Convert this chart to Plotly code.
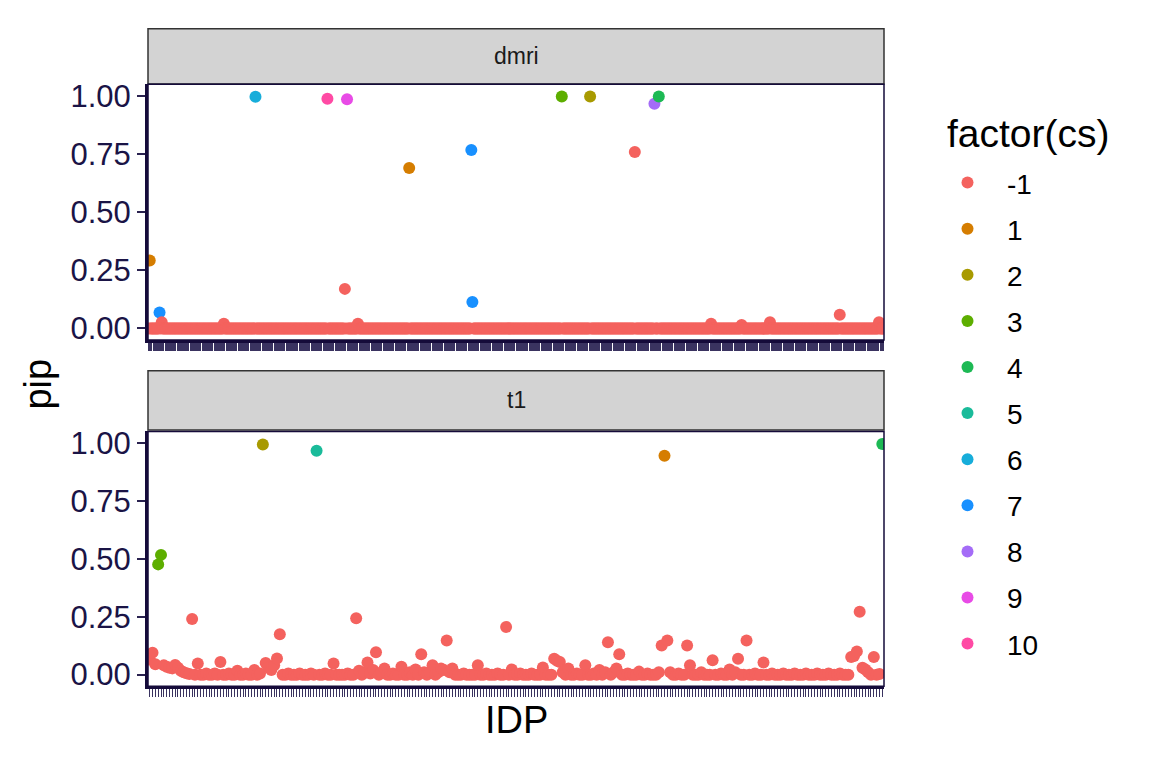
import plotly.graph_objects as go

# ******************************************************************************************* DATA

cs_levels = [-1, 1, 2, 3, 4, 5, 6, 7, 8, 9, 10]
cs_colors = ["#F4625E", "#D57D00", "#A89A00", "#5DAE00", "#1DB954", "#1ABB9A",
             "#17ADDA", "#1890FF", "#A46CF7", "#E84BE6", "#FF4AA4"]

# dmri: 675 IDPs, every IDP not listed below sits at pip 0 (cs -1)
dmri_n = 675
dmri_idx = [1, 10, 12, 69, 98, 164, 180, 182, 192, 239, 296, 297, 379, 405, 446, 464, 468, 516, 544, 570, 634, 670]
dmri_pip = [0.292, 0.068, 0.027, 0.02, 0.996, 0.987, 0.17, 0.985, 0.02, 0.69, 0.767, 0.114, 0.997, 0.997,
            0.758, 0.966, 0.997, 0.02, 0.015, 0.027, 0.059, 0.027]
dmri_cs = [1, 7, -1, -1, 6, 10, -1, 9, -1, 1, 7, 7, 3, 2, -1, 8, 4, -1, -1, -1, -1, -1]

# t1: 260 IDPs
t1_pip = [
    0.065, 0.095, 0.045, 0.476, 0.517, 0.04, 0.034, 0.03, 0.027, 0.042, 0.03, 0.017, 0.01, 0.006, 0.003, 0.24, 0.0, 0.048, 0.0, 0.0,
    0.005, 0.0, 0.0, 0.005, 0.0, 0.055, 0.0, 0.0, 0.005, 0.0, 0.0, 0.017, 0.0, 0.0, 0.005, 0.0, 0.0, 0.02, 0.0, 0.005,
    0.994, 0.05, 0.03, 0.02, 0.04, 0.07, 0.174, 0.0, 0.0, 0.005, 0.0, 0.0, 0.0, 0.005, 0.0, 0.0, 0.0, 0.005, 0.0, 0.967,
    0.0, 0.0, 0.005, 0.0, 0.0, 0.048, 0.0, 0.0, 0.0, 0.0, 0.005, 0.0, 0.0, 0.243, 0.017, 0.0, 0.008, 0.052, 0.005, 0.02,
    0.097, 0.0, 0.01, 0.027, 0.0, 0.0, 0.005, 0.0, 0.0, 0.034, 0.0, 0.0, 0.01, 0.0, 0.022, 0.0, 0.088, 0.01, 0.0, 0.01,
    0.041, 0.0, 0.01, 0.027, 0.02, 0.147, 0.01, 0.027, 0.0, 0.0, 0.0, 0.005, 0.0, 0.0, 0.0, 0.0, 0.041, 0.0, 0.0, 0.005,
    0.0, 0.0, 0.0, 0.005, 0.0, 0.0, 0.206, 0.0, 0.022, 0.0, 0.0, 0.005, 0.0, 0.0, 0.0, 0.005, 0.0, 0.0, 0.0, 0.031,
    0.0, 0.0, 0.0, 0.069, 0.06, 0.055, 0.01, 0.0, 0.027, 0.0, 0.0, 0.005, 0.0, 0.0, 0.041, 0.0, 0.0, 0.005, 0.0, 0.02,
    0.0, 0.01, 0.14, 0.0, 0.01, 0.027, 0.088, 0.0, 0.0, 0.005, 0.0, 0.0, 0.0, 0.013, 0.0, 0.0, 0.005, 0.0, 0.0, 0.0,
    0.01, 0.126, 0.945, 0.147, 0.01, 0.0, 0.0, 0.005, 0.0, 0.0, 0.126, 0.041, 0.0, 0.0, 0.0, 0.01, 0.0, 0.0, 0.0, 0.062,
    0.0, 0.0, 0.005, 0.0, 0.0, 0.022, 0.0, 0.01, 0.069, 0.0, 0.0, 0.147, 0.0, 0.0, 0.005, 0.0, 0.0, 0.052, 0.0, 0.0,
    0.005, 0.0, 0.0, 0.0, 0.005, 0.0, 0.0, 0.0, 0.005, 0.0, 0.0, 0.0, 0.005, 0.0, 0.0, 0.0, 0.005, 0.0, 0.0, 0.0,
    0.005, 0.0, 0.0, 0.0, 0.005, 0.0, 0.0, 0.0, 0.076, 0.08, 0.1, 0.271, 0.03, 0.022, 0.01, 0.0, 0.076, 0.0, 0.003, 0.996,
]
t1_cs_idx = [3, 4, 40, 59, 182, 259]
t1_cs_val = [3, 3, 2, 5, 1, 4]

# ******************************************************************************************* STYLE

W, H = 1152, 768
page_offset = 8  # browser body margin
navy = "#150B3A"
tick_text = "#1A1446"
font_family = "Liberation Sans, Arial, sans-serif"
marker_size = 12

panel_left, panel_right = 148, 884
top_panel = (80.2, 339.8)
bottom_panel = (432.5, 691)
top_strip = (24, 80)
bottom_strip = (371, 431)


def px_x(v):
    return (v - page_offset) / W


def px_y(v):
    return 1 - (v - page_offset) / H


color_of = dict(zip(cs_levels, cs_colors))

# ******************************************************************************************* BUILD

dmri_x = list(range(dmri_n))
dmri_y = [0.0] * dmri_n
dmri_c = [-1] * dmri_n
for i, p, c in zip(dmri_idx, dmri_pip, dmri_cs):
    dmri_y[i] = p
    dmri_c[i] = c

t1_x = list(range(len(t1_pip)))
t1_c = [-1] * len(t1_pip)
for i, c in zip(t1_cs_idx, t1_cs_val):
    t1_c[i] = c

fig = go.Figure()

fig.add_trace(go.Scatter(
    x=dmri_x, y=dmri_y, mode="markers", xaxis="x", yaxis="y", showlegend=False,
    marker=dict(size=marker_size, color=[color_of[c] for c in dmri_c], line=dict(width=0)),
    hoverinfo="x+y"
))
fig.add_trace(go.Scatter(
    x=t1_x, y=t1_pip, mode="markers", xaxis="x2", yaxis="y2", showlegend=False,
    marker=dict(size=marker_size, color=[color_of[c] for c in t1_c], line=dict(width=0)),
    hoverinfo="x+y"
))

# legend entries
for lvl, col in zip(cs_levels, cs_colors):
    fig.add_trace(go.Scatter(
        x=[None], y=[None], mode="markers", name=str(lvl), legendgroup=str(lvl),
        marker=dict(size=marker_size, color=col, line=dict(width=0))
    ))

x_domain = [px_x(panel_left), px_x(panel_right)]
axis_common = dict(showgrid=False, zeroline=False, showline=True, linecolor=navy, linewidth=3)
xaxis_common = dict(axis_common, domain=x_domain, tickmode="linear", tick0=0, dtick=1, ticks="outside",
                    ticklen=8, tickwidth=1, tickcolor="#3A3360", showticklabels=False)
yaxis_common = dict(axis_common, range=[-0.05, 1.05], tickvals=[0, 0.25, 0.5, 0.75, 1.0],
                    ticktext=["0.00", "0.25", "0.50", "0.75", "1.00"], ticks="outside", ticklen=8,
                    tickwidth=1.5, tickcolor="#2A2250", tickfont=dict(size=31, color=tick_text))

shapes = []
annotations = []
for (p_top, p_bot), (s_top, s_bot), label in [(top_panel, top_strip, "dmri"), (bottom_panel, bottom_strip, "t1")]:
    shapes.append(dict(type="rect", xref="paper", yref="paper",
                       x0=px_x(panel_left), x1=px_x(panel_right), y0=px_y(s_bot), y1=px_y(s_top),
                       fillcolor="#D3D3D3", line=dict(color="#333333", width=1.5), layer="below"))
    shapes.append(dict(type="rect", xref="paper", yref="paper",
                       x0=px_x(panel_left), x1=px_x(panel_right), y0=px_y(p_bot), y1=px_y(p_top),
                       fillcolor="rgba(0,0,0,0)", line=dict(color=navy, width=1.5), layer="above"))
    annotations.append(dict(text=label, xref="paper", yref="paper", x=(px_x(panel_left) + px_x(panel_right)) / 2,
                            y=px_y((s_top + s_bot) / 2), showarrow=False, xanchor="center", yanchor="middle",
                            font=dict(size=23, color="#1A1A1A")))

annotations.append(dict(text="pip", xref="paper", yref="paper", x=px_x(38), y=px_y(385), showarrow=False,
                        textangle=-90, xanchor="center", yanchor="middle", font=dict(size=38, color="black")))
annotations.append(dict(text="IDP", xref="paper", yref="paper", x=px_x(516), y=px_y(725), showarrow=False,
                        xanchor="center", yanchor="middle", font=dict(size=38, color="black")))
annotations.append(dict(text="factor(cs)", xref="paper", yref="paper", x=px_x(945), y=px_y(130), showarrow=False,
                        xanchor="left", yanchor="middle", font=dict(size=39, color="black")))

fig.update_layout(
    width=W, height=H,
    margin=dict(l=0, r=0, t=0, b=0),
    paper_bgcolor="white", plot_bgcolor="white",
    font=dict(family=font_family, color="black"),
    xaxis=dict(xaxis_common, anchor="y", range=[-0.6, dmri_n - 0.4]),
    yaxis=dict(yaxis_common, anchor="x", domain=[px_y(top_panel[1]), px_y(top_panel[0])]),
    xaxis2=dict(xaxis_common, anchor="y2", range=[-0.6, len(t1_pip) - 0.4]),
    yaxis2=dict(yaxis_common, anchor="x2", domain=[px_y(bottom_panel[1]), px_y(bottom_panel[0])]),
    shapes=shapes,
    annotations=annotations,
    legend=dict(
        x=px_x(928), y=px_y(155), xanchor="left", yanchor="top",
        font=dict(size=28, color="black"),
        traceorder="grouped", tracegroupgap=6.7, itemwidth=69,
        bgcolor="rgba(0,0,0,0)"
    ),
)

fig.write_html("out.html")
